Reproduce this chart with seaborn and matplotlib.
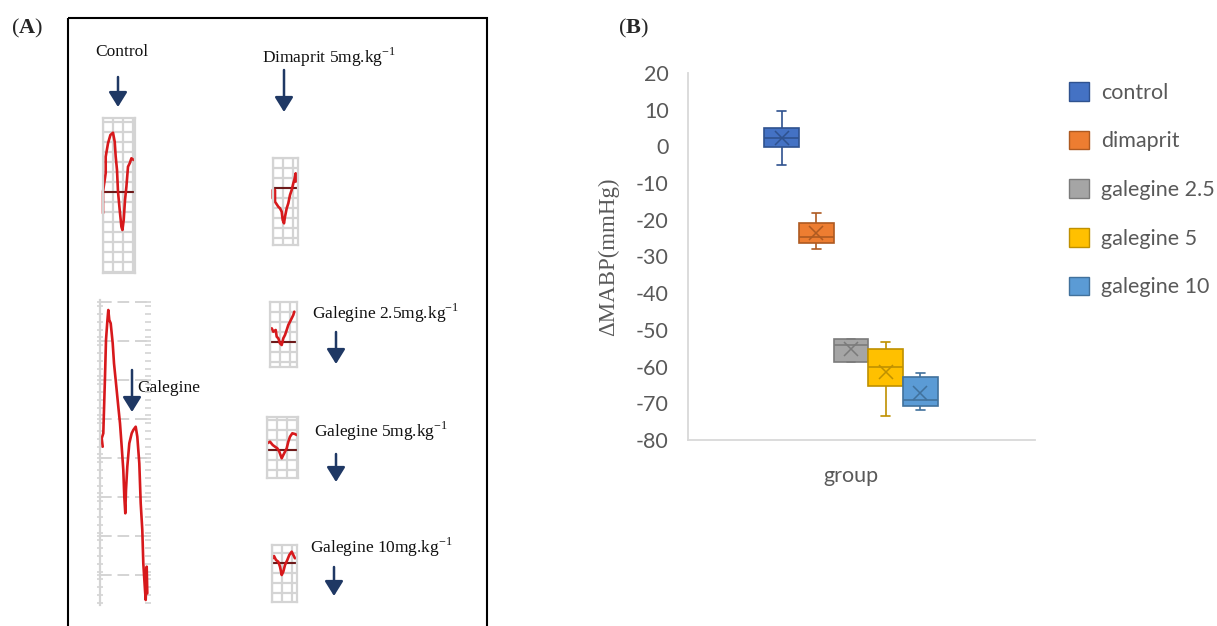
import numpy as np
import pandas as pd
import matplotlib.pyplot as plt
import seaborn as sns
from matplotlib.patches import Patch, Rectangle
from matplotlib.ticker import MultipleLocator

sns.set_style('white')
plt.rcParams['font.family'] = ['Lato', 'DejaVu Sans']
plt.rcParams['axes.unicode_minus'] = False
plt.rcParams['mathtext.fontset'] = 'custom'
plt.rcParams['mathtext.rm'] = 'Liberation Serif'
plt.rcParams['mathtext.bf'] = 'Liberation Serif:bold'

# ---- panel B data: change in mean arterial blood pressure (mmHg) ----
groups = ['control', 'dimaprit', 'galegine 2.5', 'galegine 5', 'galegine 10']
control = [-5.1, -0.2, 2.2, 5.0, 9.7]
dimaprit = [-28.0, -26.4, -24.6, -20.8, -18.1]
galegine_25 = [-58.7, -58.7, -54.1, -52.6, -52.6]
galegine_5 = [-73.5, -65.2, -60.2, -55.3, -53.2]
galegine_10 = [-71.8, -70.7, -69.1, -62.9, -61.8]

control_tx = [0, 0, 2.7, 2.7, 5, 7.4, 10, 11.7, 12.7, 14, 15, 16.7, 18.4, 19.4, 20.7, 22, 23.4, 25, 26.7, 28.4, 30.7]
control_ty = [-21.6, 0, 18.7, 35, 48.4, 56.7, 59, 50, 35, 21.7, 0, -18.3, -35, -38.3, -28.3, -8.3, 5, 25, 28.4, 33.4, 31.7]
dimaprit_tx = [0, 0, 2.3, 2.3, 5.6, 7.3, 9, 10, 11.3, 12.3, 14, 15.6, 17.3, 19, 20.6, 21.6, 23, 23]
dimaprit_ty = [-10, -1.7, -1.7, -13.4, -18.4, -20, -23.4, -31.7, -35, -28.4, -20, -15, -6.7, -1.7, 5, 8.3, 15, 6.6]
galegine_tx = [1, 0, 1.6, 3.3, 4.3, 5.6, 6.6, 7.6, 9, 11, 12.3, 14.3, 16.6, 18.3, 20, 21.6, 22.6, 23.6, 24.3,
               25.6, 27.6, 30, 31.6, 34, 35.6, 37.6, 39, 40.6, 41.6, 43.3, 44, 45, 45.6]
galegine_ty = [0, 8.4, 13.4, 70, 106.7, 125, 136.7, 126.7, 123.4, 103.4, 83.4, 63.4, 40, 23.4, 0, -23.3, -50,
               -66.6, -43.3, -20, 3.4, 13.4, 16.7, 20, 10, -16.6, -56.6, -83.3, -116.6, -143.3, -153.3, -120, -146.6]
g25_tx = [1.7, 3.3, 5.7, 6.7, 8.3, 10, 11.7, 13.3, 15, 16.7, 18.3, 20, 21.7, 23.3, 24.3]
g25_ty = [13.4, 10, 11.7, 5, 3.4, -1.6, -3.3, 3.4, 6.7, 11.7, 16.7, 20, 23.4, 26.7, 30]
g5_tx = [0.6, 3.3, 6, 8.3, 10.6, 12.6, 15, 16.6, 18.3, 20, 21.6, 23.3, 25.6, 28.3, 30]
g5_ty = [6.7, 8.3, 5, 3.3, 1.7, -1.7, -8.3, -5, -1.7, 1.7, 8.3, 13.3, 16.7, 16, 15]
g10_tx = [1, 2.3, 4.3, 6.6, 8.3, 10, 11.6, 13.3, 15.6, 17.6, 20, 21.6, 23.3]
g10_ty = [5, 7.3, 3.3, 1.6, -3.4, -11.7, -8.4, -1.7, 3.3, 8.3, 11.6, 8.3, 5]

fills = ['#4472C4', '#ED7D31', '#A5A5A5', '#FFC000', '#5B9BD5']
edges = ['#2F528F', '#AE5A21', '#7B7B7B', '#BF9000', '#41719C']
navy = '#1F3864'
red = '#D7191C'
gridc = '#D4D4D4'
textc = '#595959'

W, H = 1217, 626
fig = plt.figure(figsize=(W / 100, H / 100), dpi=100)


def px_axes(x0, y0, x1, y1):
    return fig.add_axes([x0 / W, 1 - y1 / H, (x1 - x0) / W, (y1 - y0) / H])


# ---------------- panel A ----------------
ov = fig.add_axes([0, 0, 1, 1])
ov.set_xlim(0, W)
ov.set_ylim(H, 0)
ov.axis('off')
ov.add_patch(Rectangle((68, 18), 419, 700, fill=False, lw=1.5, ec='black'))
ov.text(27, 28, r'($\mathbf{A}$)', family='Liberation Serif', fontsize=16, ha='center', va='center')
ov.text(633, 28, r'($\mathbf{B}$)', family='Liberation Serif', fontsize=16, ha='center', va='center')

serif = dict(family='Liberation Serif', fontsize=12.5, color='#111111', ha='left', va='center')
ov.text(95, 52, 'Control', **serif)
ov.text(262, 57, r'Dimaprit 5mg.kg$^{-1}$', **serif)
ov.text(137, 388, 'Galegine', **serif)
ov.text(312, 313, r'Galegine 2.5mg.kg$^{-1}$', **serif)
ov.text(314, 431, r'Galegine 5mg.kg$^{-1}$', **serif)
ov.text(310, 547, r'Galegine 10mg.kg$^{-1}$', **serif)

for ax_x, y_from, y_to in [(118, 77, 107), (284, 70, 112), (132, 370, 412),
                           (336, 332, 364), (336, 454, 482), (334, 567, 596)]:
    ov.annotate('', xy=(ax_x, y_to), xytext=(ax_x, y_from),
                arrowprops=dict(arrowstyle='-|>,head_length=0.45,head_width=0.28', color=navy,
                                lw=1.8, mutation_scale=20, shrinkA=0, shrinkB=0))


def small_trace(tx, ty, box, origin):
    x0, y0, x1, y1 = box
    ox, oy = origin
    a = px_axes(x0, y0, x1, y1)
    a.set_xlim(x0 - ox, x1 - ox)
    a.set_ylim(oy - y1, oy - y0)
    a.xaxis.set_major_locator(MultipleLocator(10))
    a.yaxis.set_major_locator(MultipleLocator(10))
    a.grid(True, color=gridc, lw=1.6)
    a.tick_params(length=0, labelleft=False, labelbottom=False)
    for s in a.spines.values():
        s.set_color(gridc)
        s.set_linewidth(1.6)
    a.axhline(0, color='#6E1A1A', lw=1.5)
    a.plot(tx, ty, color=red, lw=1.9, clip_on=False)
    a.patch.set_alpha(0)
    return a


small_trace(control_tx, control_ty, (103, 118, 135, 273), (103, 191.7))
small_trace(dimaprit_tx, dimaprit_ty, (272.7, 158, 298, 245), (272.7, 188.3))
small_trace(g25_tx, g25_ty, (270, 302, 297, 367), (270, 341.7))
small_trace(g5_tx, g5_ty, (266.7, 416.7, 298.3, 478.3), (266.7, 450))
small_trace(g10_tx, g10_ty, (271.7, 545, 296.7, 602), (271.7, 563.3))

# big galegine trace, drawn on an axis-like grid
ag = px_axes(100, 300, 148, 605)
ag.set_xlim(-1.7, 46.3)
ag.set_ylim(-158.3, 146.7)
ag.yaxis.set_major_locator(MultipleLocator(39, offset=-11))
ag.yaxis.set_minor_locator(MultipleLocator(7.8))
ag.set_xticks([])
ag.grid(True, axis='y', color=gridc, lw=1.4, ls=(0, (6, 3)))
ag.tick_params(axis='y', which='both', left=True, right=True, direction='inout', length=5,
               color=gridc, width=1.2, labelleft=False)
for side in ['top', 'bottom', 'right']:
    ag.spines[side].set_visible(False)
ag.spines['left'].set_color(gridc)
ag.spines['left'].set_linewidth(1.6)
ag.patch.set_alpha(0)
ag.plot(galegine_tx, galegine_ty, color=red, lw=1.9, clip_on=False)

# ---------------- panel B ----------------
df = pd.DataFrame({
    'axis': 'group',
    'group': np.repeat(groups, 5),
    'value': np.concatenate([control, dimaprit, galegine_25, galegine_5, galegine_10]),
})
palette = dict(zip(groups, fills))

ax = px_axes(688, 73, 1035, 440)
for g, ec in zip(groups, edges):
    sns.boxplot(data=df[df['group'] == g], x='axis', y='value', hue='group', hue_order=groups,
                palette=palette, saturation=1, linecolor=ec, linewidth=1.2, width=0.5, gap=0, dodge=True,
                whis=(0, 100), fliersize=0, showmeans=True, capwidths=0.025,
                meanprops=dict(marker='x', markeredgecolor=ec, markersize=10, markeredgewidth=1.1),
                legend=False, ax=ax)

ax.set_xlim(-0.47, 0.53)
ax.set_ylim(-80, 20)
ax.set_yticks(range(-80, 21, 10))
ax.set_xlabel('')
ax.set_ylabel('ΔMABP(mmHg)', family='Liberation Serif', fontsize=16.5, color=textc)
ax.yaxis.set_label_coords(-0.198, 0.5)
ax.tick_params(axis='y', length=5, color='#D9D9D9', width=1, pad=9, labelsize=15.5, labelcolor=textc)
ax.tick_params(axis='x', length=0, pad=19, labelsize=15.5, labelcolor=textc)
for side in ['top', 'right']:
    ax.spines[side].set_visible(False)
for side in ['left', 'bottom']:
    ax.spines[side].set_color('#D9D9D9')
    ax.spines[side].set_linewidth(1.3)

handles = [Patch(facecolor=fc, edgecolor=ec, label=g) for g, fc, ec in zip(groups, fills, edges)]
fig.legend(handles=handles, loc='upper left', bbox_to_anchor=(1069 / W, 1 - 82 / H), frameon=False,
           fontsize=15.5, handlelength=0.95, handleheight=0.95, labelspacing=1.3, handletextpad=0.55,
           labelcolor=textc, borderaxespad=0, borderpad=0)

fig.savefig('out.png', dpi=100)
